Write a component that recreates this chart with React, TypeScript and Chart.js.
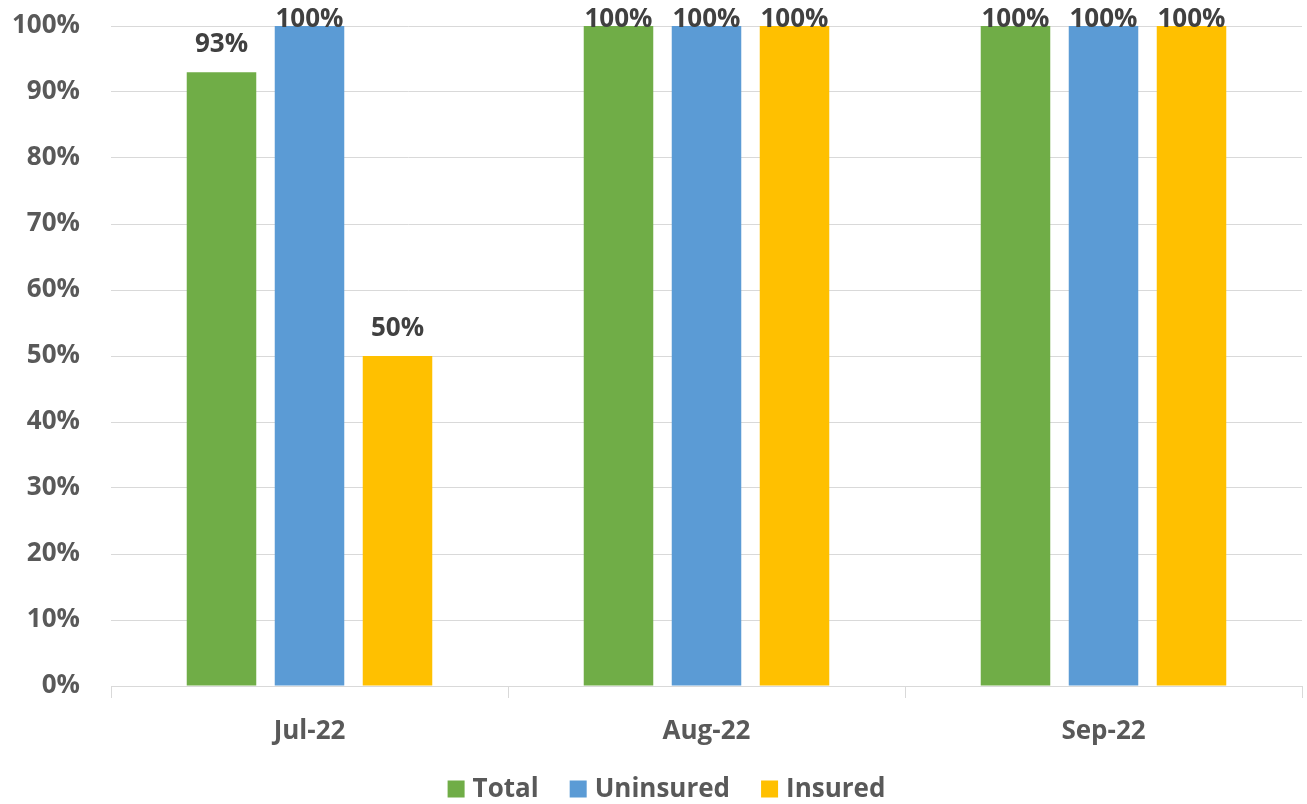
import React, { useEffect, useRef } from "react";
import { Chart, registerables } from "chart.js";

Chart.register(...registerables);

const categories = ["Jul-22", "Aug-22", "Sep-22"];
const seriesNames = ["Total", "Uninsured", "Insured"];
const seriesColors = ["#70AD47", "#5B9BD5", "#FFC000"];
const totalValues = [93, 100, 100];
const uninsuredValues = [100, 100, 100];
const insuredValues = [50, 100, 100];
const yTicks = [0, 10, 20, 30, 40, 50, 60, 70, 80, 90, 100];

const FONT = '"Open Sans", "DejaVu Sans", sans-serif';
const FS = 26;

const labelPlugin = {
  id: "barLabels",
  afterDatasetsDraw(chart: any) {
    const ctx = chart.ctx;
    ctx.save();
    ctx.font = `bold ${FS}px ${FONT}`;
    ctx.fillStyle = "#404040";
    ctx.textAlign = "center";
    ctx.textBaseline = "alphabetic";
    chart.data.datasets.forEach((ds: any, i: number) => {
      const meta = chart.getDatasetMeta(i);
      meta.data.forEach((bar: any, j: number) => {
        const v = ds.data[j];
        const y = Math.max(bar.y - 20, chart.chartArea.top + 1);
        ctx.fillText(`${v}%`, bar.x, y);
      });
    });
    ctx.restore();
  },
};

const legendPlugin = {
  id: "customLegend",
  afterDraw(chart: any) {
    const ctx = chart.ctx;
    ctx.save();
    ctx.font = `bold ${FS}px ${FONT}`;
    ctx.textBaseline = "middle";
    ctx.textAlign = "left";
    const box = 17;
    const textGap = 8;
    const itemGap = 31;
    const widths = chart.data.datasets.map(
      (ds: any) => box + textGap + ctx.measureText(ds.label).width
    );
    const total =
      widths.reduce((a: number, b: number) => a + b, 0) + itemGap * (widths.length - 1);
    let x = (chart.width - total) / 2 + 13;
    const cy = 789;
    chart.data.datasets.forEach((ds: any, i: number) => {
      ctx.fillStyle = ds.backgroundColor;
      ctx.fillRect(x, cy - box / 2, box, box);
      ctx.fillStyle = "#595959";
      ctx.fillText(ds.label, x + box + textGap, cy + 1);
      x += widths[i] + itemGap;
    });
    ctx.restore();
  },
};

export default function App() {
  const ref = useRef<HTMLCanvasElement | null>(null);
  useEffect(() => {
    let chart: any = null;
    let cancelled = false;
    const make = () => {
      if (cancelled || !ref.current) return;
      chart = new Chart(ref.current, {
        type: "bar",
        data: {
          labels: categories,
          datasets: [
            { label: seriesNames[0], data: totalValues, backgroundColor: seriesColors[0] },
            { label: seriesNames[1], data: uninsuredValues, backgroundColor: seriesColors[1] },
            { label: seriesNames[2], data: insuredValues, backgroundColor: seriesColors[2] },
          ],
        },
        options: {
          responsive: false,
          animation: false,
          devicePixelRatio: 1,
          layout: { padding: { top: 26, left: 0, right: 5, bottom: 30 } },
          datasets: {
            bar: { barPercentage: 0.79, categoryPercentage: 0.665 },
          },
          plugins: {
            tooltip: { enabled: false },
            legend: { display: false },
          },
          scales: {
            x: {
              offset: true,
              grid: {
                offset: true,
                drawOnChartArea: false,
                drawTicks: true,
                tickLength: 12,
                color: "#d9d9d9",
              },
              border: { color: "#d9d9d9" },
              ticks: {
                color: "#595959",
                padding: 18,
                font: { family: FONT, size: FS, weight: "bold" },
              },
              afterFit(scale: any) {
                scale.height = 88;
                scale.paddingLeft = 0;
                scale.paddingRight = 0;
              },
            },
            y: {
              min: 0,
              max: 100,
              afterBuildTicks(scale: any) {
                scale.ticks = yTicks.map((v) => ({ value: v }));
              },
              grid: { color: "#d9d9d9", drawTicks: false },
              border: { display: false },
              ticks: {
                color: "#595959",
                padding: 31,
                font: { family: FONT, size: FS, weight: "bold" },
                callback: (v: any) => `${v}%`,
              },
              afterFit(scale: any) {
                scale.width = 111;
                scale.paddingTop = 0;
                scale.paddingBottom = 0;
              },
            },
          },
        },
        plugins: [labelPlugin, legendPlugin],
      } as any);
    };
    const fonts: any = (document as any).fonts;
    if (fonts && fonts.load) {
      fonts.load(`bold ${FS}px "Open Sans"`).then(make, make);
    } else make();
    return () => {
      cancelled = true;
      if (chart) chart.destroy();
    };
  }, []);
  return (
    <div
      style={{
        position: "fixed",
        left: 0,
        top: 0,
        width: 1307,
        height: 804,
        overflow: "hidden",
        background: "#fff",
      }}
    >
      <canvas ref={ref} width={1307} height={804} style={{ display: "block" }} />
    </div>
  );
}
